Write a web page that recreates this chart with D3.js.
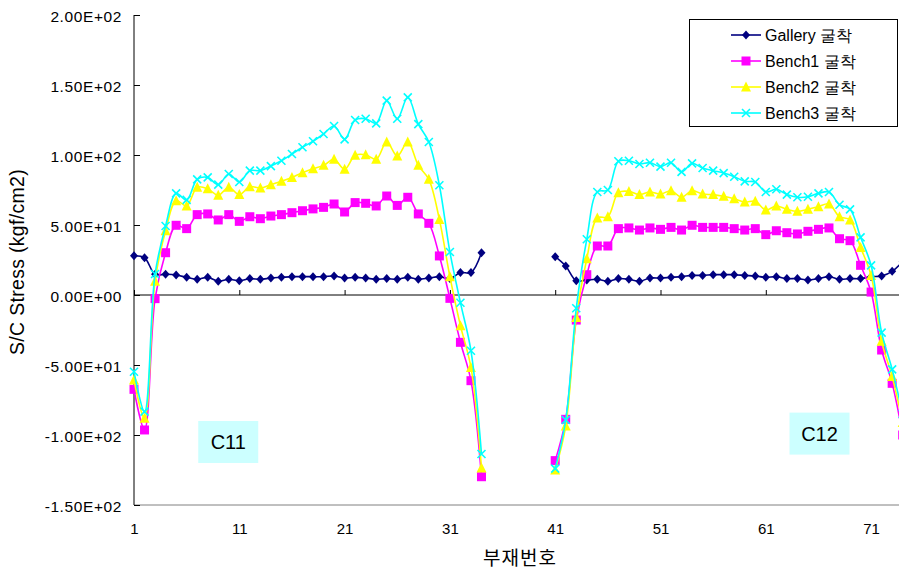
<!DOCTYPE html>
<html>
<head>
<meta charset="utf-8">
<script src="https://cdn.jsdelivr.net/npm/d3@7/dist/d3.min.js"></script>
<style>
  html, body { margin: 0; padding: 0; background: #fff; }
  svg { display: block; }
  text { font-family: "Liberation Sans", Arial, sans-serif; fill: #000; }
</style>
</head>
<body>
<svg id="chart" width="899" height="572"></svg>
<script>
// Member numbers 1..74; members 35-40 have no readings (null).
const members = d3.range(1, 75);
const gap = [null, null, null, null, null, null];

const gallery = [
  28, 26.6, 14.8, 14.8, 14.3, 12.6, 11.2, 12.6, 9.8, 11.2, 10.2, 11.7, 11.2, 12.1, 12.6, 13.1, 13.1,
  13.1, 13.1, 13.6, 12.1, 12.6, 12.1, 11.2, 11.7, 11.2, 12.6, 11.2, 12.1, 13.1, 11.7, 16, 16, 30.2,
  ...gap,
  27.4, 20.7, 10.2, 10.7, 11.2, 9.8, 11.7, 11.2, 9.8, 12.1, 12.1, 12.6, 13.1, 14, 14, 14.5, 14.5,
  14.5, 14, 13.6, 12.6, 13.1, 11.7, 11.7, 10.7, 11.7, 13.1, 11.2, 11.7, 11.7, 13.1, 13.6, 16.9, 24
];
const bench1 = [
  -67.4, -96.4, -2.6, 30.2, 49.8, 47.4, 57.4, 57.9, 53.6, 57.4, 52.6, 55.9, 54.5, 56.4, 57.4, 58.8, 60.2,
  61.5, 62.6, 65, 59.3, 66, 65.5, 63.6, 70.7, 64, 69.8, 57.9, 51.2, 27.9, -2.4, -33.8, -61.2, -129.8,
  ...gap,
  -118.3, -88.8, -17.9, 14.5, 35, 35, 47.4, 47.9, 46.4, 47.9, 46.9, 48.3, 46.4, 49.8, 48.3, 48.3, 48.3,
  47.4, 46.4, 47.4, 43.1, 45.9, 44.5, 43.6, 45.5, 46.9, 47.9, 40.2, 38.8, 21.2, 2.1, -39.3, -63.1, -100
];
const bench2 = [
  -60.7, -88.1, 9.8, 45.9, 67.4, 63.6, 76.9, 75.9, 71.2, 76.9, 71.7, 77.4, 76.4, 78.8, 81.2, 84, 87.4,
  90.2, 92.6, 96.9, 89.8, 99.8, 100.2, 96.9, 109.3, 99.3, 109.3, 92.6, 82.6, 54, 13.1, -21.9, -51.7, -123.6,
  ...gap,
  -125, -93.6, -16, 25.9, 55, 55.9, 73.1, 74, 71.7, 73.6, 72.1, 74.5, 69.8, 74.5, 72.1, 71.7, 70.5,
  68.8, 66.4, 66.9, 60.7, 63.6, 61.2, 59.8, 61.2, 63.1, 65, 55.9, 53.6, 34, 14, -33.1, -58.3, -91
];
const bench3 = [
  -54.8, -83.3, 15, 49.3, 72.6, 67.9, 82.6, 84, 78.8, 86.4, 80.7, 88.8, 88.8, 92.1, 95.9, 100.7, 105.5,
  109.8, 115, 120.7, 111.2, 125, 125.9, 122.6, 138.8, 125.9, 141.2, 122.1, 109.3, 78.4, 30.7, -5.5, -39.8, -113.6,
  ...gap,
  -124, -89.3, -9.5, 39.8, 73.6, 75, 95.5, 95.9, 93.6, 94.5, 91.7, 94.5, 87.9, 94, 90.7, 88.8, 87.1,
  84.5, 81.2, 80.7, 73.6, 75.5, 71.7, 69.8, 70.2, 72.6, 73.6, 64.5, 61.2, 41.2, 21.2, -26.9, -53.1, -85
];

const seriesNames = ["Gallery 굴착", "Bench1 굴착", "Bench2 굴착", "Bench3 굴착"];
const seriesColors = ["#000080", "#ff00ff", "#ffff00", "#00ffff"];
const seriesMarkers = ["diamond", "square", "triangle", "cross"];
const seriesValues = [gallery, bench1, bench2, bench3];

const xTicks = [1, 11, 21, 31, 41, 51, 61, 71];
const yTicks = [200, 150, 100, 50, 0, -50, -100, -150];
const sectionLabels = [
  { text: "C11", member: 9.95, value: -105 },
  { text: "C12", member: 66.1, value: -99 }
];

const svg = d3.select("#chart");
const x = d3.scaleLinear().domain([1, 74]).range([134, 134 + 73 * 10.53]);
const y = d3.scaleLinear().domain([-150, 200]).range([505, 15]);
const right = 899;

const fmtE = v => {
  const [m, e] = v.toExponential(2).split("e");
  const sign = e[0] === "-" ? "-" : "+";
  const digits = e.replace(/[+-]/, "").padStart(2, "0");
  return m + "E" + sign + digits;
};

// bottom frame line of the plot area
svg.append("line")
  .attr("x1", x(1)).attr("x2", right)
  .attr("y1", y(-150)).attr("y2", y(-150))
  .attr("stroke", "#808080").attr("stroke-width", 1);

// tick labels along the bottom
const xLab = svg.append("g").attr("transform", `translate(0,${y(-150)})`)
  .call(d3.axisBottom(x).tickValues(xTicks).tickSize(0).tickPadding(18).tickFormat(d3.format("d")));
xLab.select(".domain").remove();
xLab.selectAll("text").style("font-size", "15px").style("font-family", "\"Liberation Sans\", Arial, sans-serif");

// zero line with inward ticks
const xAx = svg.append("g").attr("transform", `translate(0,${y(0)})`)
  .call(d3.axisBottom(x).tickValues(xTicks).tickSize(-5).tickFormat(""));
xAx.select(".domain").attr("d", `M${x(1)},0H${right}`).attr("stroke", "#000");

// value axis
const yAx = svg.append("g").attr("transform", `translate(${x(1)},0)`)
  .call(d3.axisLeft(y).tickValues(yTicks).tickSize(-6).tickPadding(12).tickFormat(fmtE));
yAx.select(".domain").attr("d", `M0,${y(200)}V${y(-150)}`).attr("stroke", "#000");
yAx.selectAll("text").style("font-size", "15.5px").style("letter-spacing", "0.6px")
  .style("font-family", "\"Liberation Sans\", Arial, sans-serif").attr("dy", "0.45em");

// axis titles
svg.append("text")
  .attr("transform", `translate(24,${(y(200) + y(-150)) / 2 + 2}) rotate(-90)`)
  .attr("text-anchor", "middle").style("font-size", "19.5px").style("letter-spacing", "0.3px")
  .text("S/C Stress (kgf/cm2)");
svg.append("text")
  .attr("x", 520).attr("y", 565).attr("text-anchor", "middle")
  .style("font-family", "\"Noto Sans CJK KR\", sans-serif").style("font-size", "19px")
  .style("letter-spacing", "1px")
  .text("부재번호");

// markers
function drawMarker(g, type, color, size) {
  const h = size / 2;
  if (type === "diamond") {
    g.append("path").attr("d", `M0,${-h - 0.5}L${h},0L0,${h + 0.5}L${-h},0Z`).attr("fill", color);
  } else if (type === "square") {
    g.append("rect").attr("x", -h).attr("y", -h).attr("width", size).attr("height", size).attr("fill", color);
  } else if (type === "triangle") {
    g.append("path").attr("d", `M0,${-h - 1}L${h + 0.5},${h}L${-h - 0.5},${h}Z`).attr("fill", color);
  } else {
    g.append("path").attr("d", `M${-h},${-h}L${h},${h}M${-h},${h}L${h},${-h}`)
      .attr("stroke", color).attr("stroke-width", 1.6).attr("fill", "none");
  }
}
const markerSizes = [8, 9, 9, 8];

const line = d3.line()
  .defined(d => d.v !== null)
  .x(d => x(d.m)).y(d => y(d.v))
  .curve(d3.curveCatmullRom.alpha(0.5));

const plot = svg.append("g");
seriesValues.forEach((vals, si) => {
  const pts = members.map((m, i) => ({ m, v: vals[i] }));
  const g = plot.append("g");
  g.append("path").datum(pts).attr("d", line)
    .attr("fill", "none").attr("stroke", seriesColors[si]).attr("stroke-width", 1.6);
  pts.filter(d => d.v !== null).forEach(d => {
    const mg = g.append("g").attr("transform", `translate(${x(d.m)},${y(d.v)})`);
    drawMarker(mg, seriesMarkers[si], seriesColors[si], markerSizes[si]);
  });
});

// section labels
sectionLabels.forEach(s => {
  const cx = x(s.member), cy = y(s.value);
  svg.append("rect").attr("x", cx - 30).attr("y", cy - 21).attr("width", 60).attr("height", 42)
    .attr("fill", "#ccffff");
  svg.append("text").attr("x", cx).attr("y", cy + 7).attr("text-anchor", "middle")
    .style("font-size", "20px").text(s.text);
});

// legend
const lg = svg.append("g");
lg.append("rect").attr("x", 689.5).attr("y", 19.5).attr("width", 208).attr("height", 107)
  .attr("fill", "#fff").attr("stroke", "#000").attr("stroke-width", 1);
seriesNames.forEach((name, i) => {
  const ly = 35 + i * 26;
  lg.append("line").attr("x1", 731).attr("x2", 761).attr("y1", ly).attr("y2", ly)
    .attr("stroke", seriesColors[i]).attr("stroke-width", 1.6);
  drawMarker(lg.append("g").attr("transform", `translate(746,${ly})`), seriesMarkers[i], seriesColors[i], markerSizes[i]);
  lg.append("text").attr("x", 765).attr("y", ly + 5.5).style("font-size", "16px").text(name);
});
</script>
</body>
</html>
